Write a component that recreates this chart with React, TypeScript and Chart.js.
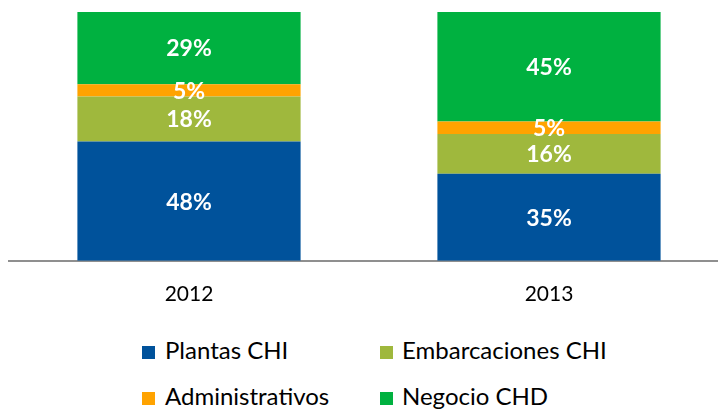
import React, { useEffect, useRef } from "react";
import { Chart, registerables } from "chart.js";

Chart.register(...registerables);

const categories = ["2012", "2013"];
const seriesNames = ["Plantas CHI", "Embarcaciones CHI", "Administrativos", "Negocio CHD"];
const plantasCHI = [48, 35];
const embarcacionesCHI = [18, 16];
const administrativos = [5, 5];
const negocioCHD = [29, 45];
const seriesColors = ["#00529B", "#9FB83D", "#FFA300", "#00B140"];

const FONT = "Lato, 'Open Sans', sans-serif";

const valueLabels = {
  id: "valueLabels",
  afterDatasetsDraw(chart: any) {
    const ctx = chart.ctx;
    const area = chart.chartArea;
    ctx.save();
    ctx.fillStyle = "#ffffff";
    ctx.font = `bold 23px ${FONT}`;
    ctx.textAlign = "center";
    ctx.textBaseline = "middle";
    chart.data.datasets.forEach((ds: any, di: number) => {
      const meta = chart.getDatasetMeta(di);
      meta.data.forEach((el: any, i: number) => {
        const top = Math.max(el.y, area.top);
        const y = (top + el.base) / 2;
        ctx.fillText(ds.data[i] + "%", el.x, y + 1);
      });
    });
    ctx.restore();
  },
};

export default function App() {
  const ref = useRef<HTMLCanvasElement>(null);
  useEffect(() => {
    if (!ref.current) return;
    const series = [plantasCHI, embarcacionesCHI, administrativos, negocioCHD];
    const chart = new Chart(ref.current, {
      type: "bar",
      data: {
        labels: categories,
        datasets: series.map((d, i) => ({
          label: seriesNames[i],
          data: d,
          backgroundColor: seriesColors[i],
          borderWidth: 0,
          categoryPercentage: 1,
          barPercentage: 0.62,
        })),
      },
      options: {
        animation: false,
        responsive: false,
        devicePixelRatio: 1,
        layout: { padding: { left: 9, right: 11, top: 12, bottom: 5 } },
        plugins: { legend: { display: false }, tooltip: { enabled: false } },
        scales: {
          x: {
            stacked: true,
            grid: { display: false, drawTicks: false },
            border: { display: true, color: "#8F8F8F", width: 2 },
            ticks: { color: "#000", font: { family: FONT, size: 21 }, padding: 21 },
          },
          y: { stacked: true, display: false, min: 0, max: 100 },
        },
      },
      plugins: [valueLabels],
    });
    return () => chart.destroy();
  }, []);

  const legendPos = [
    { sx: 142, tx: 165, sy: 346, ty: 338 },
    { sx: 380, tx: 402, sy: 346, ty: 338 },
    { sx: 142, tx: 165, sy: 392, ty: 384 },
    { sx: 380, tx: 402, sy: 392, ty: 384 },
  ];

  return (
    <div
      style={{
        position: "absolute",
        left: 0,
        top: 0,
        width: 718,
        height: 412,
        overflow: "hidden",
        background: "#fff",
      }}
    >
      <canvas
        ref={ref}
        width={740}
        height={333}
        style={{ position: "absolute", left: 0, top: 0, width: 740, height: 333 }}
      />
      {seriesNames.map((name, i) => (
        <React.Fragment key={name}>
          <div
            style={{
              position: "absolute",
              left: legendPos[i].sx,
              top: legendPos[i].sy,
              width: 13,
              height: 13,
              background: seriesColors[i],
            }}
          />
          <div
            style={{
              position: "absolute",
              left: legendPos[i].tx,
              top: legendPos[i].ty,
              fontFamily: FONT,
              fontSize: 24,
              lineHeight: "24px",
              color: "#000",
              whiteSpace: "nowrap",
            }}
          >
            {name}
          </div>
        </React.Fragment>
      ))}
    </div>
  );
}
